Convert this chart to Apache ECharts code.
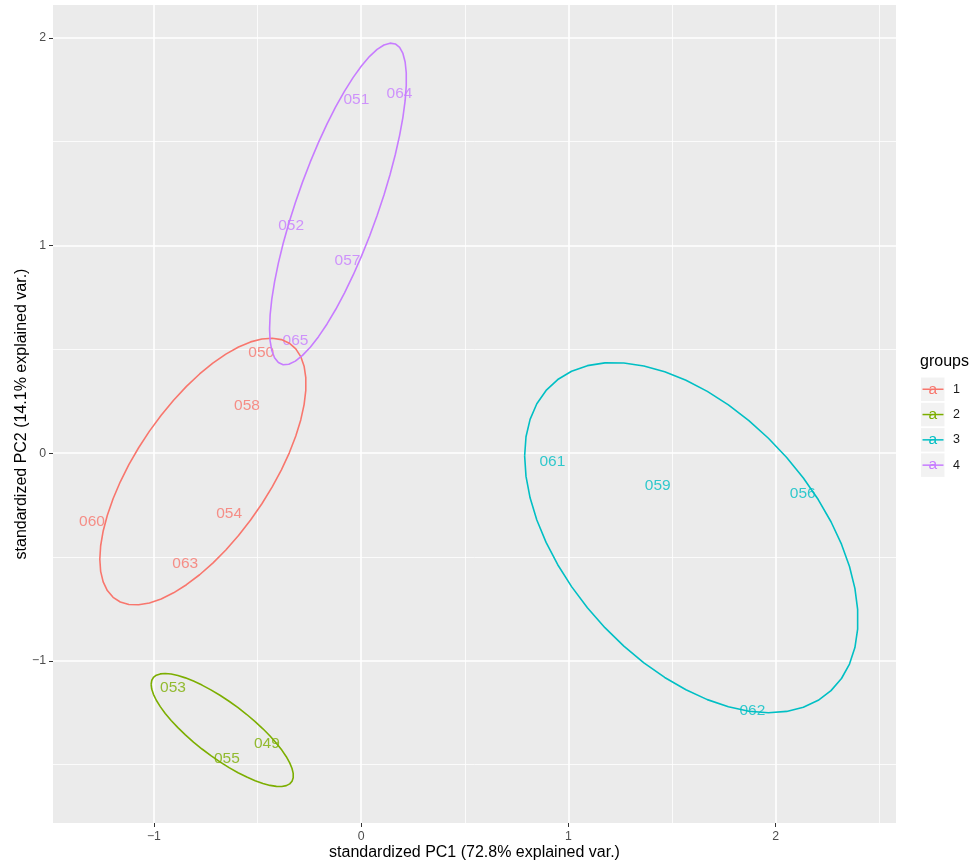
<!DOCTYPE html>
<html>
<head>
<meta charset="utf-8">
<script src="https://cdn.jsdelivr.net/npm/echarts@6/dist/echarts.min.js"></script>
<style>
  html, body { margin: 0; padding: 0; background: #fff; }
  #pca_con { width: 977px; height: 867px; }
</style>
</head>
<body>
<div id="pca_con"></div>
<script>
// sample labels, their group and the two standardized PC scores
const sampleIds = ['050', '058', '054', '060', '063', '053', '049', '055', '061', '059', '056', '062', '051', '064', '052', '057', '065'];
const sampleGroup = ['1', '1', '1', '1', '1', '2', '2', '2', '3', '3', '3', '3', '4', '4', '4', '4', '4'];
const pc1 = [-0.482, -0.551, -0.637, -1.299, -0.849, -0.908, -0.455, -0.648, 0.923, 1.431, 2.131, 1.888, -0.023, 0.185, -0.338, -0.066, -0.317];
const pc2 = [0.483, 0.229, -0.294, -0.329, -0.532, -1.129, -1.401, -1.470, -0.040, -0.156, -0.193, -1.239, 1.701, 1.733, 1.096, 0.927, 0.542];

const groupNames = ['1', '2', '3', '4'];
const groupColors = ['#F8766D', '#7CAE00', '#00BFC4', '#C77CFF'];

const FONT = '"Liberation Sans", Arial, sans-serif';
const ellipseProb = 0.68;

// normal data ellipse, same recipe as ggbiplot (chol of the covariance)
function dataEllipse(xs, ys) {
    const n = xs.length;
    const mx = xs.reduce((a, b) => a + b, 0) / n;
    const my = ys.reduce((a, b) => a + b, 0) / n;
    let sxx = 0, syy = 0, sxy = 0;
    for (let i = 0; i < n; i++) {
        sxx += (xs[i] - mx) * (xs[i] - mx);
        syy += (ys[i] - my) * (ys[i] - my);
        sxy += (xs[i] - mx) * (ys[i] - my);
    }
    sxx /= n - 1; syy /= n - 1; sxy /= n - 1;
    const r11 = Math.sqrt(sxx);
    const r12 = sxy / r11;
    const r22 = Math.sqrt(syy - r12 * r12);
    const ed = Math.sqrt(-2 * Math.log(1 - ellipseProb));
    const pts = [];
    for (let k = 0; k < 50; k++) {
        const t = -Math.PI + 2 * Math.PI * k / 49;
        const c = Math.cos(t), s = Math.sin(t);
        pts.push([mx + ed * c * r11, my + ed * (c * r12 + s * r22)]);
    }
    return pts;
}

function tickText(v) {
    if (!Number.isInteger(v)) return '';
    return v < 0 ? '\u2212' + (-v) : String(v);
}

const series = [];
groupNames.forEach((g, gi) => {
    const xs = [], ys = [], pts = [];
    for (let i = 0; i < sampleIds.length; i++) {
        if (sampleGroup[i] !== g) continue;
        xs.push(pc1[i]); ys.push(pc2[i]);
        pts.push({ value: [pc1[i], pc2[i]], name: sampleIds[i] });
    }
    series.push({
        type: 'scatter',
        name: g,
        data: pts,
        symbolSize: 1,
        itemStyle: { color: 'rgba(0,0,0,0)' },
        z: 2,
        silent: true,
        label: {
            show: true,
            position: 'inside',
            formatter: '{b}',
            color: groupColors[gi],
            fontFamily: FONT,
            fontSize: 15.5
        }
    });
    series.push({
        type: 'line',
        name: g,
        data: dataEllipse(xs, ys),
        showSymbol: false,
        symbol: 'none',
        smooth: false,
        z: 3,
        silent: true,
        lineStyle: { color: groupColors[gi], width: 1.6 }
    });
});

// legend drawn in the ggplot style: grey key boxes with a line and an "a"
const legendGraphic = [{
    type: 'text',
    x: 920, y: 362,
    style: { text: 'groups', fontFamily: FONT, fontSize: 16, fill: '#000', verticalAlign: 'middle' }
}];
groupNames.forEach((g, gi) => {
    const y0 = 377.5 + gi * 25.3;
    legendGraphic.push({
        type: 'rect',
        shape: { x: 921, y: y0, width: 23.5, height: 23.5 },
        style: { fill: '#F2F2F2' }
    });
    legendGraphic.push({
        type: 'line',
        shape: { x1: 922.5, y1: y0 + 11.75, x2: 943.5, y2: y0 + 11.75 },
        style: { stroke: groupColors[gi], lineWidth: 1.5 }
    });
    legendGraphic.push({
        type: 'text',
        x: 932.7, y: y0 + 11.75,
        style: {
            text: 'a', fontFamily: FONT, fontSize: 15.5, fill: groupColors[gi],
            align: 'center', verticalAlign: 'middle'
        }
    });
    legendGraphic.push({
        type: 'text',
        x: 953, y: y0 + 11.75,
        style: {
            text: g, fontFamily: FONT, fontSize: 12.5, fill: '#1A1A1A',
            align: 'left', verticalAlign: 'middle'
        }
    });
});

const axisCommon = {
    type: 'value',
    nameLocation: 'middle',
    nameMoveOverlap: false,
    nameTextStyle: { fontFamily: FONT, fontSize: 16, color: '#000' },
    minInterval: 1,
    maxInterval: 1,
    axisLine: { show: false, onZero: false },
    axisTick: { show: true, length: 4, lineStyle: { color: '#333333', width: 1 } },
    axisLabel: {
        show: true,
        showMinLabel: false,
        showMaxLabel: false,
        color: '#4D4D4D',
        fontFamily: FONT,
        fontSize: 12.3,
        formatter: tickText
    },
    splitLine: {
        show: true,
        showMinLine: false,
        showMaxLine: false,
        lineStyle: { color: '#FFFFFF', width: 1.6 }
    },
    minorTick: { show: false, splitNumber: 2 },
    minorSplitLine: { show: true, lineStyle: { color: '#FFFFFF', width: 0.8 } }
};

const option = {
    animation: false,
    backgroundColor: '#FFFFFF',
    textStyle: { fontFamily: FONT },
    grid: {
        left: 53, right: 81, top: 5, bottom: 44,
        containLabel: false,
        outerBoundsMode: 'none',
        show: true,
        backgroundColor: '#EBEBEB',
        borderWidth: 0
    },
    xAxis: Object.assign({}, axisCommon, {
        min: -1.487,
        max: 2.581,
        name: 'standardized PC1 (72.8% explained var.)',
        nameGap: 22,
        axisLabel: Object.assign({}, axisCommon.axisLabel, { margin: 8 })
    }),
    yAxis: Object.assign({}, axisCommon, {
        min: -1.781,
        max: 2.158,
        name: 'standardized PC2 (14.1% explained var.)',
        nameGap: 23,
        axisLabel: Object.assign({}, axisCommon.axisLabel, { margin: 7 })
    }),
    graphic: legendGraphic,
    series: series
};

const pcaChart = echarts.init(document.getElementById('pca_con'));
pcaChart.setOption(option);
window.addEventListener('resize', function () {
    pcaChart.resize();
});
</script>
</body>
</html>
